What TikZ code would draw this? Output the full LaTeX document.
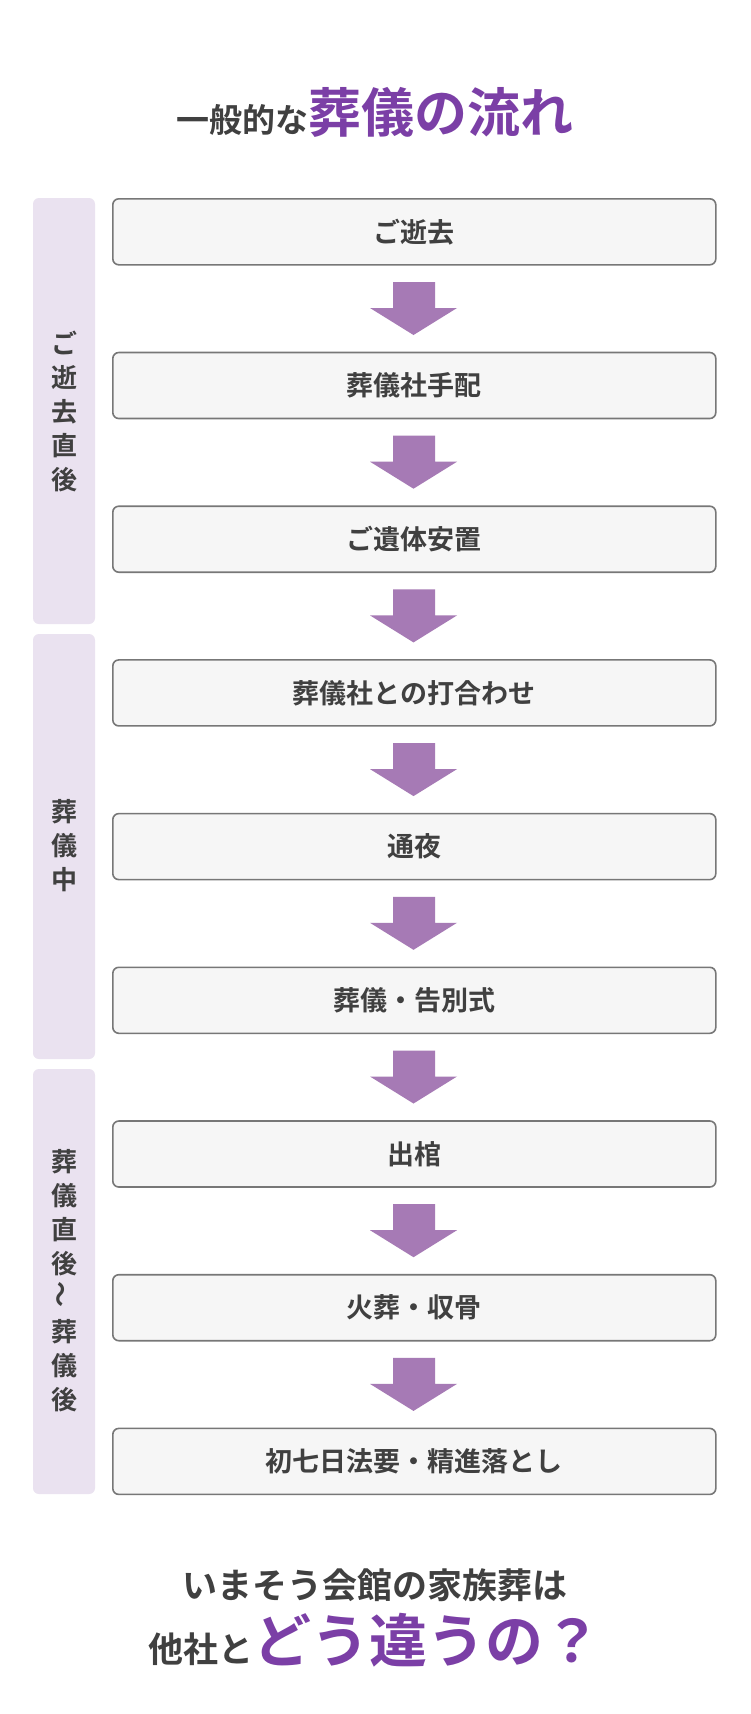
\documentclass[tikz,border=0pt]{standalone}
\usepackage{fontspec}
\setmainfont{Noto Sans CJK JP}[BoldFont={* Bold}]
\usepackage{graphicx}
\definecolor{txt}{HTML}{404040}
\definecolor{pur}{HTML}{7B3FA6}
\definecolor{arr}{HTML}{A67AB5}
\definecolor{bar}{HTML}{EAE2F0}
\definecolor{boxf}{HTML}{F6F6F6}
\definecolor{boxd}{HTML}{777777}
\begin{document}
\begin{tikzpicture}[x=1pt,y=-1pt,
  flowbox/.style={draw=boxd,line width=1.6pt,fill=boxf,rounded corners=6pt,minimum width=603pt,minimum height=66pt,anchor=north west,inner sep=0pt,font=\bfseries\fontsize{27}{30}\selectfont,text=txt},
  side/.style={fill=bar,rounded corners=6pt},
  sidet/.style={font=\bfseries\fontsize{26}{34}\selectfont,text=txt,align=center,inner sep=0pt}]
\useasboundingbox (0,0) rectangle (750,1714);
\fill[white] (0,0) rectangle (750,1714);
\node[font=\bfseries,text=txt] (title) at (375,112) {{\fontsize{33}{36}\selectfont 一般的な}{\color{pur}\fontsize{53}{58}\selectfont 葬儀の流れ}};
\fill[side] (33,198) rectangle (95,624);
\fill[side] (33,634) rectangle (95,1059);
\fill[side] (33,1069) rectangle (95,1494);
\node[sidet] (s1) at (64,411) {ご\\逝\\去\\直\\後};
\node[sidet] (s2) at (64,846) {葬\\儀\\中};
\node[sidet] (s3) at (64,1281) {葬\\儀\\直\\後\\\rotatebox{90}{～}\\葬\\儀\\後};
\foreach \t [count=\i from 0] in {ご逝去,葬儀社手配,ご遺体安置,葬儀社との打合わせ,通夜,葬儀・告別式,出棺,火葬・収骨,初七日法要・精進落とし}{
  \node[flowbox] (b\i) at (112,198+\i*153.7) {\t};
}
\foreach \i in {0,...,7}{
  \fill[arr] (393,282+\i*153.7) -- (435,282+\i*153.7) -- (435,308+\i*153.7) -- (457,308+\i*153.7) -- (413.5,335+\i*153.7) -- (370,308+\i*153.7) -- (393,308+\i*153.7) -- cycle;
}
\node[font=\bfseries\fontsize{35}{38}\selectfont,text=txt] (q1) at (375,1585) {いまそう会館の家族葬は};
\node[font=\bfseries,text=txt] (q2) at (375,1640) {{\fontsize{35}{38}\selectfont 他社と}{\color{pur}\fontsize{58}{62}\selectfont どう違うの？}};
\end{tikzpicture}
\end{document}
